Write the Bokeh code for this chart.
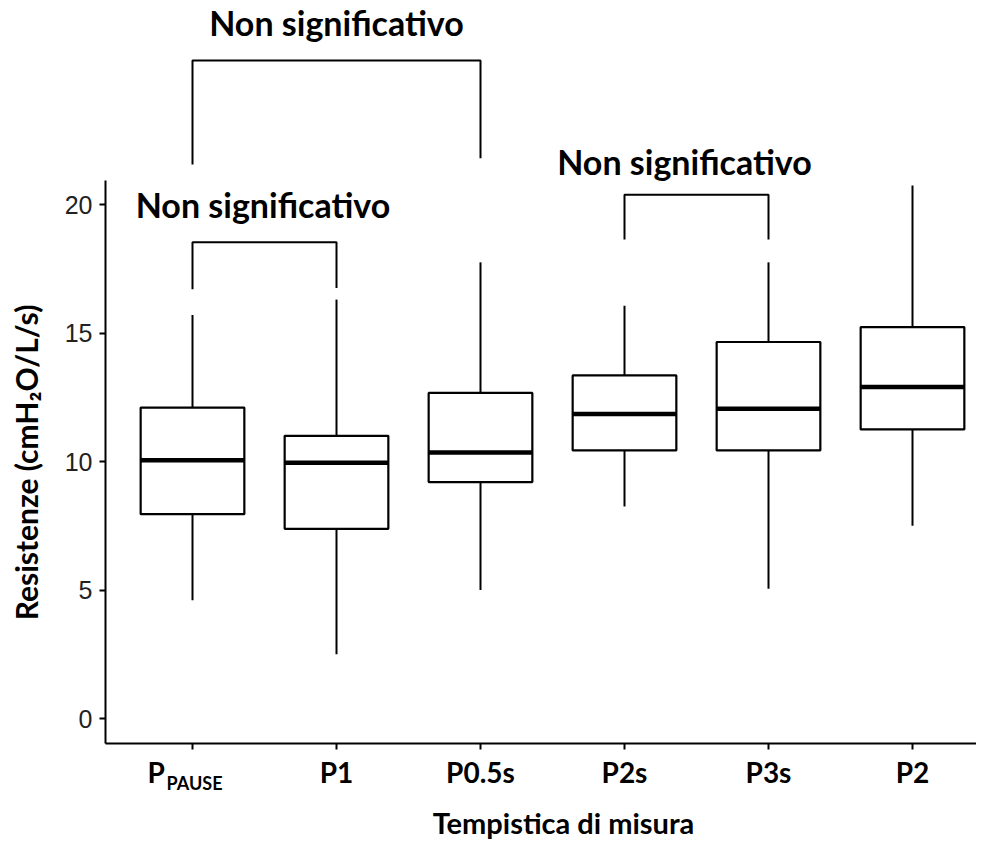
import math
from bokeh.plotting import figure
from bokeh.models import Range1d, FixedTicker, ColumnDataSource
from bokeh.core.properties import value
from bokeh.embed import file_html
from bokeh.resources import INLINE

# ---- data ----
categories = ["P_PAUSE", "P1", "P0.5s", "P2s", "P3s", "P2"]
whisker_low = [4.6, 2.5, 5.0, 8.25, 5.05, 7.5]
q1 = [7.95, 7.38, 9.2, 10.43, 10.43, 11.25]
median = [10.05, 9.95, 10.35, 11.85, 12.05, 12.9]
q3 = [12.1, 11.0, 12.67, 13.35, 14.65, 15.23]
whisker_high = [15.7, 16.3, 17.75, 16.06, 17.75, 20.74]
y_ticks = [0, 5, 10, 15, 20]

# significance brackets
bracket_left = ["P_PAUSE", "P_PAUSE", "P2s"]
bracket_right = ["P1", "P0.5s", "P3s"]
bracket_top = [18.53, 25.6, 20.38]
bracket_foot_left = [16.7, 21.56, 18.64]
bracket_foot_right = [16.75, 21.8, 18.64]
bracket_label = ["Non significativo", "Non significativo", "Non significativo"]

x_title = "Tempistica di misura"
y_title = "Resistenze (cmH\u2082O/L/s)"

# ---- layout constants ----
pos = {c: i + 1 for i, c in enumerate(categories)}
xs = [pos[c] for c in categories]
BOX_W = 0.72
PX_X = 144.0          # pixels per category
PX_Y = 25.7           # pixels per y unit
W, H = 976, 839
X0 = 1 - 192 / PX_X
X1 = X0 + W / PX_X
Y1 = 718 / PX_Y
Y0 = Y1 - H / PX_Y
AXIS_X = 1 - 87 / PX_X     # y axis position (data x)
AXIS_Y = -0.97             # x axis position (data y)
Y_AXIS_TOP = 20.93


def y_of(px):
    """data y for a pixel row of the frame"""
    return (718 - px) / PX_Y


def x_of(px):
    return 1 + (px - 192) / PX_X


BOLD = "Lato"

p = figure(width=W, height=H, min_border=0,
           x_range=Range1d(X0, X1), y_range=Range1d(Y0, Y1),
           output_backend="svg", toolbar_location=None, tools="")
p.outline_line_color = None
p.grid.visible = False
p.background_fill_color = "white"
p.border_fill_color = "white"

src = ColumnDataSource(dict(x=xs, lo=whisker_low, q1=q1, med=median, q3=q3, hi=whisker_high,
                            x0=[x - BOX_W / 2 for x in xs], x1=[x + BOX_W / 2 for x in xs]))

# whiskers
p.segment(x0="x", y0="q3", x1="x", y1="hi", source=src, line_color="black", line_width=2)
p.segment(x0="x", y0="q1", x1="x", y1="lo", source=src, line_color="black", line_width=2)
# boxes
p.vbar(x="x", width=BOX_W, bottom="q1", top="q3", source=src,
       fill_color="white", line_color="black", line_width=2.2)
# medians
p.segment(x0="x0", y0="med", x1="x1", y1="med", source=src, line_color="black", line_width=4.5)

# brackets
bx0 = [pos[c] for c in bracket_left]
bx1 = [pos[c] for c in bracket_right]
b_xs = [[a, a, b, b] for a, b in zip(bx0, bx1)]
b_ys = [[fl, t, t, fr] for fl, t, fr in zip(bracket_foot_left, bracket_top, bracket_foot_right)]
p.multi_line(xs=b_xs, ys=b_ys, line_color="black", line_width=2)

# bracket labels
label_x = [x_of(262.5), x_of(336), x_of(684)]
label_y = [y_of(203.5), y_of(22), y_of(160.5)]
p.text(x=label_x, y=label_y, text=bracket_label, text_font=value(BOLD), text_font_style="bold",
       text_font_size="34px", text_align="center", text_baseline="alphabetic", text_color="black")

# axes drawn at fixed positions inside the frame
p.yaxis.fixed_location = AXIS_X
p.yaxis.bounds = (AXIS_Y, Y_AXIS_TOP)
p.yaxis.ticker = FixedTicker(ticks=y_ticks)
p.yaxis.major_label_text_font = "Liberation Sans"
p.yaxis.major_label_text_font_size = "25px"
p.yaxis.major_label_text_color = "#222222"
p.yaxis.major_label_standoff = 7

p.xaxis.fixed_location = AXIS_Y
p.xaxis.bounds = (AXIS_X, X1)
p.xaxis.ticker = FixedTicker(ticks=xs)
overrides = {x: c for x, c in zip(xs, categories)}
overrides[pos["P_PAUSE"]] = ""
p.xaxis.major_label_overrides = overrides
p.xaxis.major_label_text_font = BOLD
p.xaxis.major_label_text_font_style = "bold"
p.xaxis.major_label_text_font_size = "28px"
p.xaxis.major_label_text_color = "black"
p.xaxis.major_label_standoff = 6

for ax in (p.xaxis, p.yaxis):
    ax.axis_line_width = 2
    ax.axis_line_color = "black"
    ax.major_tick_line_width = 2
    ax.major_tick_line_color = "black"
    ax.major_tick_out = 6
    ax.major_tick_in = 0
    ax.minor_tick_line_color = None

# P with subscript PAUSE for the first category tick
p.text(x=[x_of(147)], y=[y_of(771)], text=["P"], text_font=value(BOLD),
       text_font_style="bold", text_font_size="28px", text_align="left",
       text_baseline="alphabetic", text_color="black")
p.text(x=[x_of(166)], y=[y_of(782)], text=["PAUSE"], text_font=value(BOLD),
       text_font_style="bold", text_font_size="18px", text_align="left",
       text_baseline="alphabetic", text_color="black")

# axis titles
p.text(x=[x_of(563)], y=[y_of(822)], text=[x_title], text_font=value(BOLD),
       text_font_style="bold", text_font_size="29px", text_align="center",
       text_baseline="alphabetic", text_color="black")
p.text(x=[x_of(25)], y=[y_of(462)], text=[y_title], text_font=value(BOLD),
       text_font_style="bold", text_font_size="30px", text_align="center",
       text_baseline="middle", text_color="black", angle=math.pi / 2)

open("out.html", "w").write(file_html(p, INLINE))
